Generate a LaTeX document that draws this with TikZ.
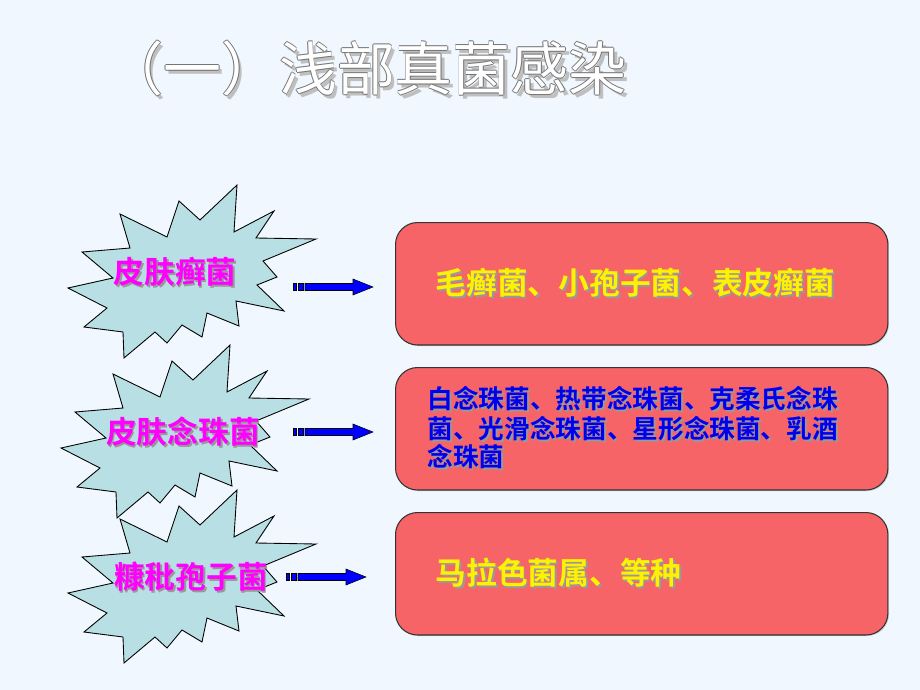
\documentclass[tikz,border=0pt]{standalone}
\usepackage{fontspec}
\setmainfont{Noto Sans CJK SC}[BoldFont={Noto Sans CJK SC Bold}]
\usepackage{tikz}
\usetikzlibrary{shadows}
\definecolor{slidebg}{HTML}{F0F7FE}
\definecolor{starcyan}{HTML}{B8DFE3}
\definecolor{boxred}{HTML}{F76467}
\definecolor{labelpink}{HTML}{FF00FF}
\definecolor{arrowblue}{HTML}{0000FF}
\definecolor{textblue}{HTML}{0000EE}

% text with a soft grey shadow
\newcommand\shadowed[2]{\leavevmode\rlap{\kern1pt\raisebox{-1pt}{\color{black!40}#2}}\textcolor{#1}{#2}}
% white text with a grey rim
\newcommand\outlined[1]{\leavevmode
	\rlap{\kern1.8pt\raisebox{-1.8pt}{\color{black!25}#1}}%
	\rlap{\kern0.55pt\color{black!55}#1}\rlap{\kern-0.55pt\color{black!55}#1}%
	\rlap{\raisebox{0.55pt}{\color{black!55}#1}}\rlap{\raisebox{-0.55pt}{\color{black!55}#1}}%
	\textcolor{white}{#1}}

\begin{document}
\begin{tikzpicture}[x=0.02cm, y=-0.02cm,
		starlabel/.style={inner sep=0pt, font=\fontsize{17.5}{20}\selectfont\bfseries},
		redbox/.style={draw=black!80, line width=0.6pt, fill=boxred, rounded corners=0.44cm,
			minimum width=9.85cm, minimum height=2.45cm, align=left, anchor=north west,
			drop shadow={shadow xshift=0.6pt, shadow yshift=-0.6pt, opacity=0.35}}]
		\fill[slidebg] (0,0) rectangle (920,690);
		\useasboundingbox (0,0) rectangle (920,690);
		
		% titel
		\node (title) at (366,70) {\fontsize{33}{38}\selectfont\outlined{（一）浅部真菌感染}};
		
		% Sterne
		\foreach \cx/\cy in {190/272, 183/432, 190/577} {
			\draw[fill=starcyan, line width=0.5pt, line join=miter, shift={(\cx,\cy)}]
			(47,-87) -- (44,-40) -- (84,-61) -- (66,-34) -- (126,-33) -- (73,-11) -- (87,5)
			-- (67,13) -- (94,39) -- (46,29) -- (49,54) -- (17,41) -- (12,65) -- (-8,53)
			-- (-23,71) -- (-35,60) -- (-66,86) -- (-67,60) -- (-106,55) -- (-83,36)
			-- (-122,16) -- (-77,6) -- (-108,-20) -- (-60,-24) -- (-70,-58) -- (-23,-35)
			-- (-11,-71) -- (10,-52) -- cycle;
		}
		\node[starlabel] (dermato) at (175,273) {\shadowed{labelpink}{皮肤癣菌}};
		\node[starlabel] (candida) at (183,433) {\shadowed{labelpink}{皮肤念珠菌}};
		\node[starlabel] (furfur) at (191,578) {\shadowed{labelpink}{糠秕孢子菌}};
		
		% Pfeile
		\foreach \ax/\ay in {293/287, 293/432, 286/577} {
			\begin{scope}[shift={(\ax,\ay)}, fill=arrowblue, draw=black, line width=0.3pt]
				\filldraw (0,-3.5) rectangle (3.5,3.5);
				\filldraw (5,-3.5) rectangle (10,3.5);
				\filldraw (12,-3.5) -- (60,-3.5) -- (60,-8) -- (80,0) -- (60,8) -- (60,3.5) -- (12,3.5) -- cycle;
			\end{scope}
		}
		
		% Kaesten
		\node[redbox, inner xsep=0.8cm, text width=8.25cm] (dermatobox) at (395,222)
		{\fontsize{17.5}{20}\selectfont\bfseries\shadowed{yellow}{毛癣菌、小孢子菌、表皮癣菌}};
		\node[redbox, inner xsep=0.64cm, text width=8.57cm] (candidabox) at (395,367)
		{\fontsize{14.6}{16.8}\selectfont\bfseries
			\shadowed{textblue}{白念珠菌、热带念珠菌、克柔氏念珠}\\
			\shadowed{textblue}{菌、光滑念珠菌、星形念珠菌、乳酒}\\
			\shadowed{textblue}{念珠菌}};
		\node[redbox, inner xsep=0.8cm, text width=8.25cm] (furfurbox) at (395,512)
		{\fontsize{17.5}{20}\selectfont\bfseries\shadowed{yellow}{马拉色菌属、等种}};
	\end{tikzpicture}
\end{document}
